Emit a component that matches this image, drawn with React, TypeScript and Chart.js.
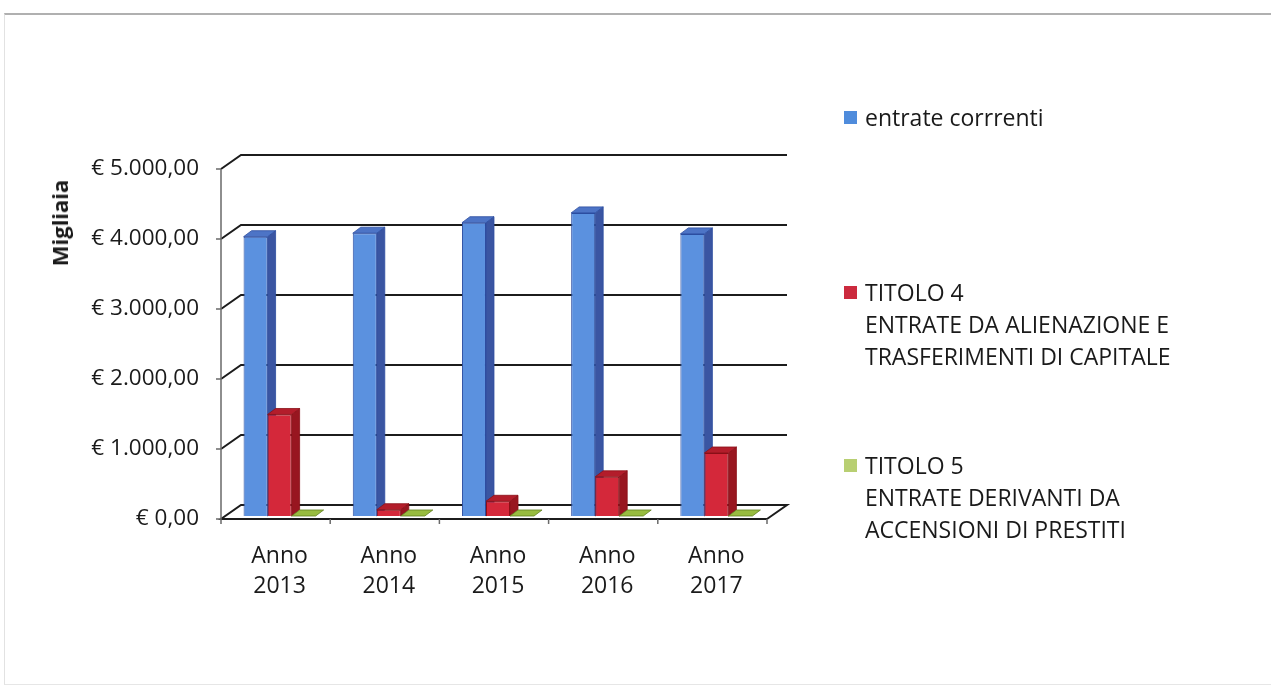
import { useEffect, useRef } from 'react';
import { Chart, registerables } from 'chart.js';

Chart.register(...registerables);

// ---------- data ----------
const years = ['2013', '2014', '2015', '2016', '2017'];
const categoryLabels = years.map((y) => ['Anno', y]);
const entrateCorrenti = [3990, 4040, 4190, 4330, 4030];
const titolo4 = [1450, 90, 210, 560, 900];
const titolo5 = [0, 0, 0, 0, 0];
const yTickValues = [0, 1000, 2000, 3000, 4000, 5000];
const seriesNames = ['entrate corrrenti', 'TITOLO 4', 'TITOLO 5'];
const legendLines = [
  ['entrate corrrenti'],
  ['TITOLO 4', 'ENTRATE DA ALIENAZIONE E', 'TRASFERIMENTI DI CAPITALE'],
  ['TITOLO 5', 'ENTRATE DERIVANTI DA', 'ACCENSIONI DI PRESTITI'],
];
const axisTitle = 'Migliaia';

// ---------- styles ----------
const FONT = '"Open Sans", "Noto Sans", sans-serif';
const faces = [
  { front: '#5b91df', side: '#3a55a2', top: '#4d74c6', border: '#2c4da0', legend: '#4f8cdc' },
  { front: '#d4283a', side: '#981620', top: '#b31d2b', border: '#8a1018', legend: '#cc2a3e' },
  { front: '#9cc044', side: '#6f9128', top: '#98bc40', border: '#5f7f1f', legend: '#b8cf72' },
];
const DEPTH = { dx: 20, dy: -14 };
const BAR_DEPTH = { dx: 8, dy: -6 };
const FRONT_SHIFT = -4;
const legendTops = [117, 292, 465];

function fmtEuro(v: number) {
  const s = Math.round(v).toString().replace(/\B(?=(\d{3})+(?!\d))/g, '.');
  return '€ ' + s + ',00';
}

const scene3d = {
  id: 'scene3d',
  beforeDatasetsDraw(chart: any) {
    const { ctx, chartArea } = chart;
    const ys = chart.scales.yFront;
    const x0 = chartArea.left + FRONT_SHIFT;
    const x1 = chartArea.right + FRONT_SHIFT;
    ctx.save();
    ctx.strokeStyle = '#1c1c1c';
    ctx.lineWidth = 2;
    for (const v of yTickValues) {
      const py = ys.getPixelForValue(v);
      ctx.beginPath();
      if (v === 0) {
        ctx.moveTo(x1, py);
        ctx.lineTo(x1 + DEPTH.dx, py + DEPTH.dy);
        ctx.lineTo(x0 + DEPTH.dx, py + DEPTH.dy);
        ctx.lineTo(x0, py);
        ctx.lineTo(x1, py);
      } else {
        ctx.moveTo(x0, py);
        ctx.lineTo(x0 + DEPTH.dx, py + DEPTH.dy);
        ctx.lineTo(x1 + DEPTH.dx, py + DEPTH.dy);
      }
      ctx.stroke();
    }
    ctx.strokeStyle = '#6a6a6a';
    ctx.lineWidth = 1.5;
    const yTop = ys.getPixelForValue(yTickValues[yTickValues.length - 1]);
    const yBot = ys.getPixelForValue(0);
    ctx.beginPath();
    ctx.moveTo(x0, yTop);
    ctx.lineTo(x0, yBot);
    for (const v of yTickValues) {
      const py = ys.getPixelForValue(v);
      ctx.moveTo(x0 - 5, py);
      ctx.lineTo(x0, py);
    }
    const n = categoryLabels.length;
    const step = (x1 - x0) / n;
    for (let i = 0; i <= n; i++) {
      const px = x0 + i * step;
      ctx.moveTo(px, yBot);
      ctx.lineTo(px, yBot + 5);
    }
    ctx.stroke();
    ctx.restore();
  },
  beforeDatasetDraw() {
    // bars are painted below, left to right, so each front face covers the previous side face
    return false;
  },
  afterDatasetsDraw(chart: any) {
    const { ctx } = chart;
    const count = chart.data.datasets.length;
    ctx.save();
    for (let i = 0; i < count; i++) {
      const meta = chart.getDatasetMeta(i);
      if (!chart.isDatasetVisible(i)) continue;
      const f = faces[i];
      for (const el of meta.data) {
        el.draw(ctx);
        const p = el.getProps(['x', 'y', 'base', 'width'], true);
        const left = p.x - p.width / 2;
        const right = p.x + p.width / 2;
        const top = Math.min(p.y, p.base);
        const bottom = Math.max(p.y, p.base);
        ctx.lineWidth = 0.8;
        ctx.strokeStyle = f.border;
        if (bottom - top > 0.5) {
          ctx.beginPath();
          ctx.moveTo(right, top);
          ctx.lineTo(right + BAR_DEPTH.dx, top + BAR_DEPTH.dy);
          ctx.lineTo(right + BAR_DEPTH.dx, bottom + BAR_DEPTH.dy);
          ctx.lineTo(right, bottom);
          ctx.closePath();
          ctx.fillStyle = f.side;
          ctx.fill();
          ctx.stroke();
        }
        ctx.beginPath();
        ctx.moveTo(left, top);
        ctx.lineTo(left + BAR_DEPTH.dx, top + BAR_DEPTH.dy);
        ctx.lineTo(right + BAR_DEPTH.dx, top + BAR_DEPTH.dy);
        ctx.lineTo(right, top);
        ctx.closePath();
        ctx.fillStyle = f.top;
        ctx.fill();
        ctx.stroke();
      }
    }
    ctx.restore();
  },
};

export default function App() {
  const ref = useRef<HTMLCanvasElement>(null);

  useEffect(() => {
    if (!ref.current) return;
    const seriesData = [entrateCorrenti, titolo4, titolo5];
    const chart = new Chart(ref.current, {
      type: 'bar',
      data: {
        labels: categoryLabels,
        datasets: seriesData.map((d, i) => ({
          label: seriesNames[i],
          data: d,
          backgroundColor: faces[i].front,
          borderColor: faces[i].border,
          borderWidth: 1,
          yAxisID: 'y',
          categoryPercentage: 0.66,
          barPercentage: 1,
        })),
      },
      options: {
        responsive: false,
        animation: false,
        events: [],
        layout: { padding: { left: 0, top: 169, right: 500, bottom: 66 } },
        plugins: { legend: { display: false }, tooltip: { enabled: false } },
        scales: {
          x: {
            type: 'category',
            offset: true,
            grid: { display: false, drawTicks: false },
            border: { display: false },
            ticks: {
              color: '#1a1a1a',
              font: { family: FONT, size: 23, lineHeight: 1.3 },
              padding: 23,
              maxRotation: 0,
              autoSkip: false,
            },
            afterFit: (s: any) => {
              s.height = 100;
            },
          },
          yFront: {
            type: 'linear',
            axis: 'y',
            position: 'left',
            min: 0,
            max: 5000,
            grid: { display: false, drawTicks: false },
            border: { display: false },
            ticks: {
              stepSize: 1000,
              color: '#1a1a1a',
              font: { family: FONT, size: 22.5 },
              padding: 26,
              callback: (v: any) => fmtEuro(Number(v)),
            },
            afterFit: (s: any) => {
              s.width = 225;
            },
          },
          y: {
            type: 'linear',
            display: false,
            min: -43,
            max: 4957,
          },
        },
      },
      plugins: [scene3d],
    } as any);
    return () => chart.destroy();
  }, []);

  return (
    <div
      style={{
        position: 'fixed',
        left: 0,
        top: 0,
        width: 1271,
        height: 685,
        background: '#ffffff',
        overflow: 'hidden',
        fontFamily: FONT,
        color: '#1a1a1a',
      }}
    >
      <div
        style={{
          position: 'absolute',
          left: 4,
          top: 13,
          width: 1266,
          height: 669,
          borderTop: '2px solid #b0b0b0',
          borderLeft: '1px solid #e2e2e2',
          borderBottom: '1px solid #e6e6e6',
        }}
      />
      <canvas ref={ref} width={1271} height={685} style={{ position: 'absolute', left: 0, top: 0 }} />
      <div
        style={{
          position: 'absolute',
          left: 59,
          top: 223,
          transform: 'translate(-50%, -50%) rotate(-90deg)',
          fontWeight: 700,
          fontSize: 22,
          whiteSpace: 'nowrap',
          lineHeight: '26px',
        }}
      >
        {axisTitle}
      </div>
      {legendLines.map((lines, i) => (
        <div key={i} style={{ position: 'absolute', left: 844, top: legendTops[i] - 16 }}>
          <div
            style={{
              position: 'absolute',
              left: 0,
              top: 10,
              width: 13,
              height: 13,
              background: faces[i].legend,
            }}
          />
          <div style={{ marginLeft: 21, fontSize: 23, lineHeight: '32px', whiteSpace: 'nowrap' }}>
            {lines.map((t, j) => (
              <div key={j}>{t}</div>
            ))}
          </div>
        </div>
      ))}
    </div>
  );
}
